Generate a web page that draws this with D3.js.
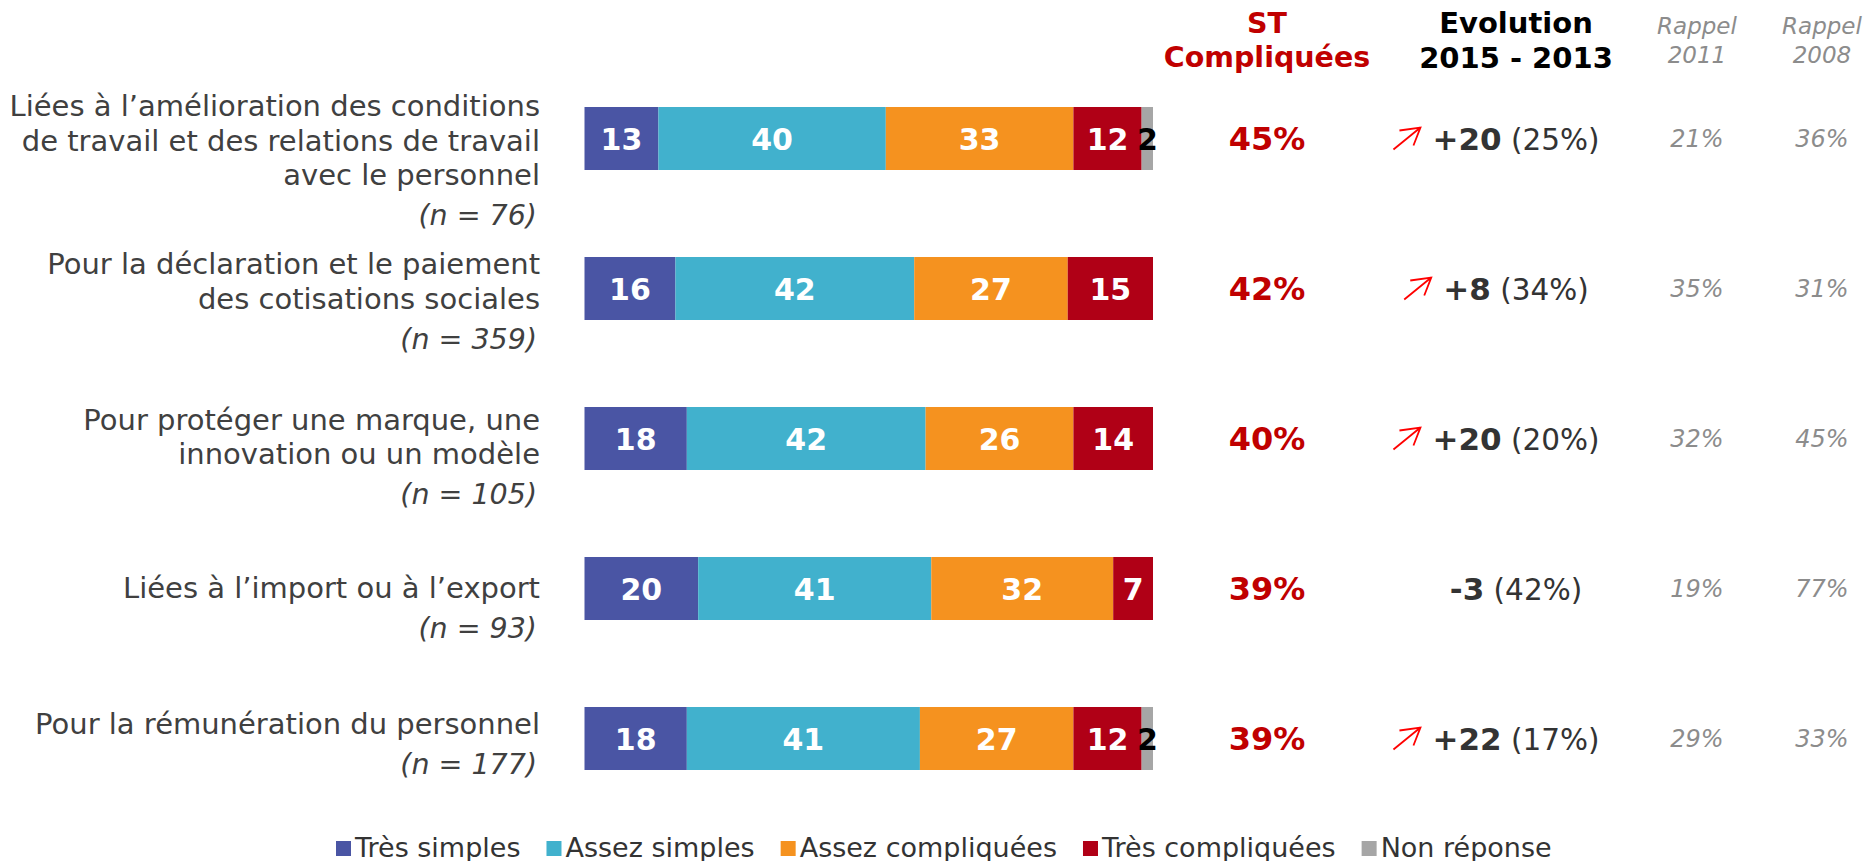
<!DOCTYPE html>
<html>
<head>
<meta charset="utf-8">
<script src="https://cdn.jsdelivr.net/npm/d3@7"></script>
<style>
  html, body { margin: 0; padding: 0; background: #fff; }
  svg { display: block; }
  text { font-family: "DejaVu Sans", Verdana, sans-serif; }
</style>
</head>
<body>
<svg id="chart" width="1866" height="861"></svg>
<script>
// ---------- data ----------
const categories = [
  ["Liées à l’amélioration des conditions", "de travail et des relations de travail", "avec le personnel"],
  ["Pour la déclaration et le paiement", "des cotisations sociales"],
  ["Pour protéger une marque, une", "innovation ou un modèle"],
  ["Liées à l’import ou à l’export"],
  ["Pour la rémunération du personnel"]
];
const sampleSizes = [76, 359, 105, 93, 177];
const seriesNames = ["Très simples", "Assez simples", "Assez compliquées", "Très compliquées", "Non réponse"];
const tresSimples = [13, 16, 18, 20, 18];
const assezSimples = [40, 42, 42, 41, 41];
const assezCompliquees = [33, 27, 26, 32, 27];
const tresCompliquees = [12, 15, 14, 7, 12];
const nonReponse = [2, 0, 0, 0, 2];
const stCompliquees = [45, 42, 40, 39, 39];
const evolution = [20, 8, 20, -3, 22];
const evolutionBase = [25, 34, 20, 42, 17];
const evolutionUp = [true, true, true, false, true];
const rappel2011 = [21, 35, 32, 19, 29];
const rappel2008 = [36, 31, 45, 77, 33];
const headerST = ["ST", "Compliquées"];
const headerEvol = ["Evolution", "2015 - 2013"];
const headerR2011 = ["Rappel", "2011"];
const headerR2008 = ["Rappel", "2008"];

// ---------- layout / style ----------
const colors = ["#4A55A4", "#41B1CD", "#F5921F", "#B00016", "#A6A6A6"];
const labelColors = ["#fff", "#fff", "#fff", "#fff", "#000"];
const labelFirstDy = [-22.5, -14.5, -9, 9.5, -5];
const colST = 1267, colEvol = 1516, col2011 = 1697, col2008 = 1822;

const svg = d3.select("#chart");
const seriesValues = [tresSimples, assezSimples, assezCompliquees, tresCompliquees, nonReponse];
const rows = categories.map((c, i) => {
  const o = { i };
  seriesNames.forEach((s, k) => o[s] = seriesValues[k][i]);
  return o;
});
const stacked = d3.stack().keys(seriesNames)(rows);

const x = d3.scaleLinear().domain([0, 100]).range([584.5, 1153]);
const y = d3.scaleBand().domain(d3.range(categories.length)).range([107, 770]).paddingInner(0.58).paddingOuter(0);
const bw = y.bandwidth();
const cy = i => y(i) + bw / 2;

// bars
const layers = svg.append("g").selectAll("g").data(stacked).join("g")
  .attr("fill", (d, k) => colors[k]);
layers.selectAll("rect").data(d => d.filter(s => s[1] - s[0] > 0)).join("rect")
  .attr("x", d => x(d[0]))
  .attr("y", d => y(d.data.i))
  .attr("width", d => x(d[1]) - x(d[0]))
  .attr("height", bw);

// bar value labels
stacked.forEach((layer, k) => {
  svg.append("g").selectAll("text").data(layer.filter(s => s[1] - s[0] > 0)).join("text")
    .attr("x", d => (x(d[0]) + x(d[1])) / 2)
    .attr("y", d => cy(d.data.i) + 11)
    .attr("text-anchor", "middle")
    .attr("font-size", 30)
    .attr("font-weight", "bold")
    .attr("fill", labelColors[k])
    .text(d => d[1] - d[0]);
});

// category labels
const labG = svg.append("g").attr("text-anchor", "end").attr("fill", "#404040");
categories.forEach((lines, i) => {
  const y0 = cy(i) + labelFirstDy[i];
  lines.forEach((ln, j) => {
    labG.append("text").attr("x", 540).attr("y", y0 + j * 34.5)
      .attr("font-size", 29).text(ln);
  });
  labG.append("text").attr("x", 537).attr("y", y0 + (lines.length - 1) * 34.5 + 40)
    .attr("font-size", 28.5).attr("font-style", "italic").text(`(n = ${sampleSizes[i]})`);
});

// headers
function header(lines, cx, opts) {
  const t = svg.append("text").attr("text-anchor", "middle")
    .attr("font-size", opts.size).attr("fill", opts.fill)
    .attr("font-weight", opts.weight || "normal").attr("font-style", opts.style || "normal");
  lines.forEach((ln, j) => t.append("tspan").attr("x", cx).attr("y", opts.y0 + j * opts.lh).text(ln));
}
header(headerST, colST, { size: 28.5, fill: "#C00000", weight: "bold", y0: 33, lh: 34 });
header(headerEvol, colEvol, { size: 29, fill: "#000", weight: "bold", y0: 33, lh: 35 });
header(headerR2011, col2011, { size: 23, fill: "#8C8C8C", style: "italic", y0: 34, lh: 29 });
header(headerR2008, col2008, { size: 23, fill: "#8C8C8C", style: "italic", y0: 34, lh: 29 });

// ST values
svg.append("g").selectAll("text").data(stCompliquees).join("text")
  .attr("x", colST).attr("y", (d, i) => cy(i) + 11)
  .attr("text-anchor", "middle").attr("font-size", 32).attr("font-weight", "bold")
  .attr("fill", "#C00000").text(d => d + "%");

// evolution values
evolution.forEach((v, i) => {
  const t = svg.append("text").attr("x", colEvol).attr("y", cy(i) + 11)
    .attr("text-anchor", "middle").attr("fill", "#333");
  t.append("tspan").attr("font-weight", "bold").attr("font-size", 31).text((v > 0 ? "+" : "") + v);
  t.append("tspan").attr("font-size", 29.5).text(` (${evolutionBase[i]}%)`);
  if (evolutionUp[i]) {
    const bb = t.node().getBBox();
    const tipX = bb.x - 12, tipY = cy(i) - 11;
    svg.append("path")
      .attr("d", `M${tipX - 27},${tipY + 22} L${tipX},${tipY} M${tipX - 21},${tipY + 3} L${tipX},${tipY} L${tipX - 7},${tipY + 18}`)
      .attr("fill", "none").attr("stroke", "#FF0000").attr("stroke-width", 1.8);
  }
});

// rappel values
[[rappel2011, col2011], [rappel2008, col2008]].forEach(([arr, cx]) => {
  svg.append("g").selectAll("text").data(arr).join("text")
    .attr("x", cx).attr("y", (d, i) => cy(i) + 8)
    .attr("text-anchor", "middle").attr("font-size", 24).attr("font-style", "italic")
    .attr("fill", "#8C8C8C").text(d => d + "%");
});

// legend
let lx = 336;
const legG = svg.append("g");
seriesNames.forEach((s, k) => {
  legG.append("rect").attr("x", lx).attr("y", 841).attr("width", 15).attr("height", 15).attr("fill", colors[k]);
  const t = legG.append("text").attr("x", lx + 19).attr("y", 857).attr("font-size", 27).attr("fill", "#333").text(s);
  lx += 19 + t.node().getComputedTextLength() + 26;
});
</script>
</body>
</html>
